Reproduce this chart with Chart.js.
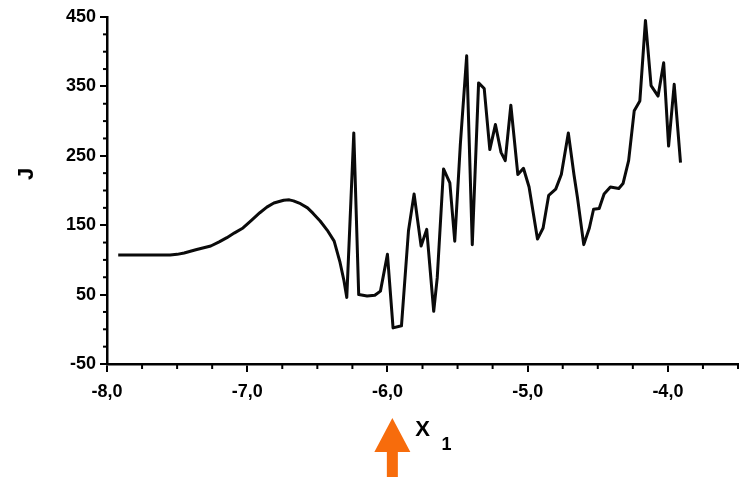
<!DOCTYPE html>
<html>
<head>
<meta charset="utf-8">
<script src="https://cdn.jsdelivr.net/npm/chart.js@4.4.1/dist/chart.umd.min.js"></script>
<style>
  html, body { margin: 0; padding: 0; background: #fff; }
  canvas { display: block; }
</style>
</head>
<body>
<canvas id="jChart" width="746" height="477"></canvas>
<script>
// values
const xVals = [
  -7.92, -7.55, -7.50, -7.45, -7.36, -7.26, -7.20, -7.145, -7.09, -7.03,
  -6.97, -6.91, -6.86, -6.81, -6.74, -6.70, -6.67, -6.62, -6.57, -6.53,
  -6.48, -6.43, -6.38, -6.34, -6.31, -6.29, -6.24, -6.205, -6.145,
  -6.09, -6.05, -6.00, -5.96, -5.90, -5.85, -5.81, -5.76, -5.72, -5.67,
  -5.645, -5.60, -5.555, -5.52, -5.48, -5.435, -5.395, -5.35, -5.31, -5.27,
  -5.23, -5.19, -5.16, -5.12, -5.07, -5.03, -4.99, -4.93, -4.89, -4.85,
  -4.80, -4.76, -4.71, -4.67, -4.645, -4.60, -4.56, -4.53, -4.49, -4.455,
  -4.41, -4.35, -4.32, -4.28, -4.24, -4.20, -4.16, -4.12, -4.07, -4.03,
  -3.995, -3.955, -3.91
];
const jVals = [
  107, 107, 108, 110, 115, 120, 126, 132, 139, 146,
  157, 168, 176, 182, 186, 186.5, 185, 181, 175, 167,
  156, 143, 127, 98, 70, 46, 283, 50, 48,
  49, 55, 108, 2, 5, 142, 195, 120, 144, 26,
  74, 231, 211, 127, 267, 394, 122, 355, 347, 259,
  295, 255, 243, 323, 223, 232, 205, 130, 146, 193,
  202, 223, 283, 223, 190, 122, 146, 173, 174, 195,
  205, 203, 210, 243, 315, 329, 445, 351, 336, 384,
  264, 353, 240
];
const xMajorTicks = [-8, -7, -6, -5, -4];
const yMajorTicks = [-50, 50, 150, 250, 350, 450];
const xMinorStep = 0.25;
const yMinorStep = 25;
const arrowAt = -5.965;

const points = xVals.map((x, i) => ({ x: x, y: jVals[i] }));

// minor ticks, J, subscript and the orange arrow
const extras = {
  id: "extras",
  afterDraw(chart) {
    const ctx = chart.ctx;
    const xs = chart.scales.x;
    const ys = chart.scales.y;
    const area = chart.chartArea;
    ctx.save();
    ctx.strokeStyle = "#000";
    ctx.lineWidth = 2;
    for (let v = xs.min; v <= xs.max + 1e-9; v += xMinorStep) {
      if (xMajorTicks.some(t => Math.abs(t - v) < 1e-6)) continue;
      const px = xs.getPixelForValue(v);
      ctx.beginPath();
      ctx.moveTo(px, area.bottom);
      ctx.lineTo(px, area.bottom + 5);
      ctx.stroke();
    }
    for (let v = ys.min; v <= ys.max + 1e-9; v += yMinorStep) {
      if (yMajorTicks.some(t => Math.abs(t - v) < 1e-6)) continue;
      const py = ys.getPixelForValue(v);
      ctx.beginPath();
      ctx.moveTo(area.left - 4, py);
      ctx.lineTo(area.left + 1, py);
      ctx.stroke();
    }

    // J
    ctx.fillStyle = "#000";
    ctx.font = "bold 22px 'Liberation Sans', Arial, sans-serif";
    ctx.textAlign = "center";
    ctx.textBaseline = "middle";
    ctx.save();
    ctx.translate(27, ys.getPixelForValue(224));
    ctx.rotate(-Math.PI / 2);
    ctx.fillText("J", 0, 0);
    ctx.restore();

    // subscript of X
    ctx.font = "bold 18px 'Liberation Sans', Arial, sans-serif";
    ctx.textAlign = "left";
    ctx.textBaseline = "alphabetic";
    ctx.fillText("1", (xs.left + xs.right) / 2 + 19, area.bottom + 86);

    // arrow
    const ax = xs.getPixelForValue(arrowAt);
    const tip = area.bottom + 54;
    const base = tip + 34;
    ctx.fillStyle = "#f76c0c";
    ctx.beginPath();
    ctx.moveTo(ax, tip);
    ctx.lineTo(ax + 18, base);
    ctx.lineTo(ax + 5.5, base);
    ctx.lineTo(ax + 5.5, chart.height);
    ctx.lineTo(ax - 5.5, chart.height);
    ctx.lineTo(ax - 5.5, base);
    ctx.lineTo(ax - 18, base);
    ctx.closePath();
    ctx.fill();
    ctx.restore();
  }
};

const tickFont = { family: "'Liberation Sans', Arial, sans-serif", size: 18, weight: "bold" };

new Chart(document.getElementById("jChart"), {
  type: "line",
  data: {
    datasets: [{
      data: points,
      borderColor: "#0a0a0a",
      borderWidth: 3,
      borderJoinStyle: "round",
      pointRadius: 0,
      tension: 0,
      fill: false
    }]
  },
  options: {
    responsive: false,
    animation: false,
    layout: { padding: { top: 17, right: 8, left: 0, bottom: 0 } },
    plugins: {
      legend: { display: false },
      tooltip: { enabled: false }
    },
    scales: {
      x: {
        type: "linear",
        min: -8,
        max: -3.5,
        afterFit: s => { s.height = 113; },
        afterBuildTicks: s => { s.ticks = xMajorTicks.map(v => ({ value: v })); },
        ticks: {
          color: "#000",
          font: tickFont,
          padding: 9,
          maxRotation: 0,
          callback: v => v.toFixed(1).replace(".", ",")
        },
        grid: { drawOnChartArea: false, tickLength: 8, color: "#000", lineWidth: 2 },
        border: { color: "#000", width: 2.5 },
        title: {
          display: true,
          text: "X",
          color: "#000",
          font: { family: "'Liberation Sans', Arial, sans-serif", size: 22, weight: "bold" },
          padding: { top: 0, bottom: 34 }
        }
      },
      y: {
        min: -50,
        max: 450,
        afterFit: s => { s.width = 107; },
        afterBuildTicks: s => { s.ticks = yMajorTicks.map(v => ({ value: v })); },
        ticks: { color: "#000", font: tickFont, padding: 4 },
        grid: { drawOnChartArea: false, tickLength: 7, color: "#000", lineWidth: 2 },
        border: { color: "#000", width: 2.5 }
      }
    }
  },
  plugins: [extras]
});
</script>
</body>
</html>
